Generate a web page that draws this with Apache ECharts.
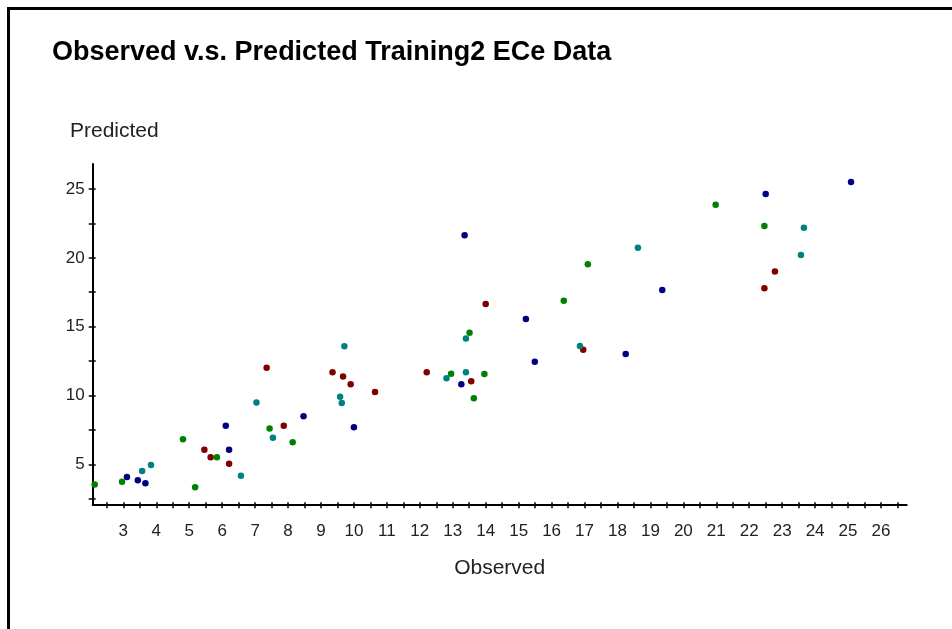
<!DOCTYPE html>
<html>
<head>
<meta charset="utf-8">
<script src="https://cdn.jsdelivr.net/npm/echarts@6/dist/echarts.min.js"></script>
<style>
  html, body { margin: 0; padding: 0; background: #fff; }
  #chart { width: 952px; height: 629px; }
</style>
</head>
<body>
<div id="chart"></div>
<script>
// observed / predicted pairs, one list per colour group
const navyPts = [
    [3.11, 4.08], [3.44, 3.84], [3.67, 3.62], [6.11, 7.8], [6.21, 6.06],
    [8.47, 8.49], [10.0, 7.69], [13.26, 10.81], [15.49, 12.45], [18.25, 13.01],
    [13.36, 21.64], [15.22, 15.56], [25.09, 25.51], [22.5, 24.64], [19.36, 17.66]
];
const redPts = [
    [5.46, 6.06], [5.65, 5.51], [6.21, 5.04], [7.35, 12.02], [7.87, 7.8],
    [9.35, 11.69], [9.67, 11.37], [9.9, 10.81], [10.64, 10.25], [12.21, 11.69],
    [13.56, 11.03], [16.96, 13.33], [14.0, 16.65], [22.78, 19.0], [22.46, 17.79]
];
const greenPts = [
    [2.13, 3.52], [2.96, 3.73], [4.81, 6.82], [5.18, 3.32], [5.84, 5.51],
    [7.44, 7.59], [8.14, 6.6], [12.95, 11.58], [13.64, 9.8], [13.96, 11.56],
    [17.1, 19.53], [16.37, 16.89], [13.51, 14.56], [20.98, 23.86], [22.46, 22.31]
];
const tealPts = [
    [3.57, 4.51], [3.84, 4.95], [6.57, 4.17], [7.04, 9.48], [7.54, 6.93],
    [9.71, 13.57], [9.58, 9.91], [9.63, 9.45], [12.81, 11.25], [13.4, 11.69],
    [16.86, 13.59], [13.4, 14.13], [18.62, 20.74], [23.66, 22.19], [23.57, 20.21]
];

const xLabels = [3, 4, 5, 6, 7, 8, 9, 10, 11, 12, 13, 14, 15, 16, 17, 18, 19, 20, 21, 22, 23, 24, 25, 26];
const xTicks = [2.5, 3, 3.5, 4, 4.5, 5, 5.5, 6, 6.5, 7, 7.5, 8, 8.5, 9, 9.5, 10, 10.5, 11, 11.5, 12,
    12.5, 13, 13.5, 14, 14.5, 15, 15.5, 16, 16.5, 17, 17.5, 18, 18.5, 19, 19.5, 20, 20.5, 21, 21.5,
    22, 22.5, 23, 23.5, 24, 24.5, 25, 25.5, 26, 26.5];
const yLabels = [5, 10, 15, 20, 25];
const yTicks = [2.5, 5, 7.5, 10, 12.5, 15, 17.5, 20, 22.5, 25];

const groups = [
    { name: 'navy', data: navyPts, color: '#000080' },
    { name: 'red', data: redPts, color: '#800000' },
    { name: 'green', data: greenPts, color: '#008000' },
    { name: 'teal', data: tealPts, color: '#008080' }
];

const FONT = 'Liberation Sans';
const X_MIN = 2.07, X_MAX = 26.78;
const Y_MIN = 2.09, Y_MAX = 26.82;

const chart = echarts.init(document.getElementById('chart'));

const axisLine = { show: true, lineStyle: { color: '#000', width: 2 } };
const tickLine = { color: '#000', width: 1.5 };

chart.setOption({
    animation: false,
    title: {
        text: 'Observed v.s. Predicted Training2 ECe Data',
        left: 52,
        top: 39,
        padding: 0,
        textStyle: { fontFamily: FONT, fontWeight: 'bold', fontSize: 27, color: '#000' }
    },
    grid: { left: 92.7, right: 45.3, top: 164, bottom: 124.7 },
    xAxis: [
        {
            type: 'value', min: X_MIN, max: X_MAX,
            name: 'Observed', nameLocation: 'middle', nameGap: 53,
            nameTextStyle: { fontFamily: FONT, fontSize: 21, color: '#222' },
            axisLine: axisLine,
            splitLine: { show: false },
            axisTick: { show: true, length: 4, lineStyle: tickLine, customValues: xTicks },
            axisLabel: { fontFamily: FONT, fontSize: 17, color: '#222', margin: 19, customValues: xLabels }
        },
        {
            type: 'value', min: X_MIN, max: X_MAX, position: 'bottom', offset: 0,
            axisLine: { show: false },
            splitLine: { show: false },
            axisTick: { show: true, inside: true, length: 2, lineStyle: tickLine, customValues: xTicks },
            axisLabel: { show: false }
        }
    ],
    yAxis: [
        {
            type: 'value', min: Y_MIN, max: Y_MAX,
            axisLine: axisLine,
            splitLine: { show: false },
            axisTick: { show: true, length: 4, lineStyle: tickLine, customValues: yTicks },
            axisLabel: { fontFamily: FONT, fontSize: 17, color: '#222', margin: 8, customValues: yLabels }
        },
        {
            type: 'value', min: Y_MIN, max: Y_MAX, position: 'left', offset: 0,
            axisLine: { show: false },
            splitLine: { show: false },
            axisTick: { show: true, inside: true, length: 3, lineStyle: tickLine, customValues: yTicks },
            axisLabel: { show: false }
        }
    ],
    graphic: [
        {
            type: 'rect',
            shape: { x: 8.5, y: 8.5, width: 1000, height: 1000 },
            style: { fill: null, stroke: '#000', lineWidth: 3 },
            silent: true
        },
        {
            type: 'text',
            left: 70, top: 121,
            style: { text: 'Predicted', fontFamily: FONT, fontSize: 21, fill: '#222' }
        }
    ],
    series: groups.map(g => ({
        name: g.name,
        type: 'scatter',
        xAxisIndex: 0,
        yAxisIndex: 0,
        symbol: 'circle',
        symbolSize: 6.5,
        itemStyle: { color: g.color, opacity: 1 },
        data: g.data
    }))
});
</script>
</body>
</html>
